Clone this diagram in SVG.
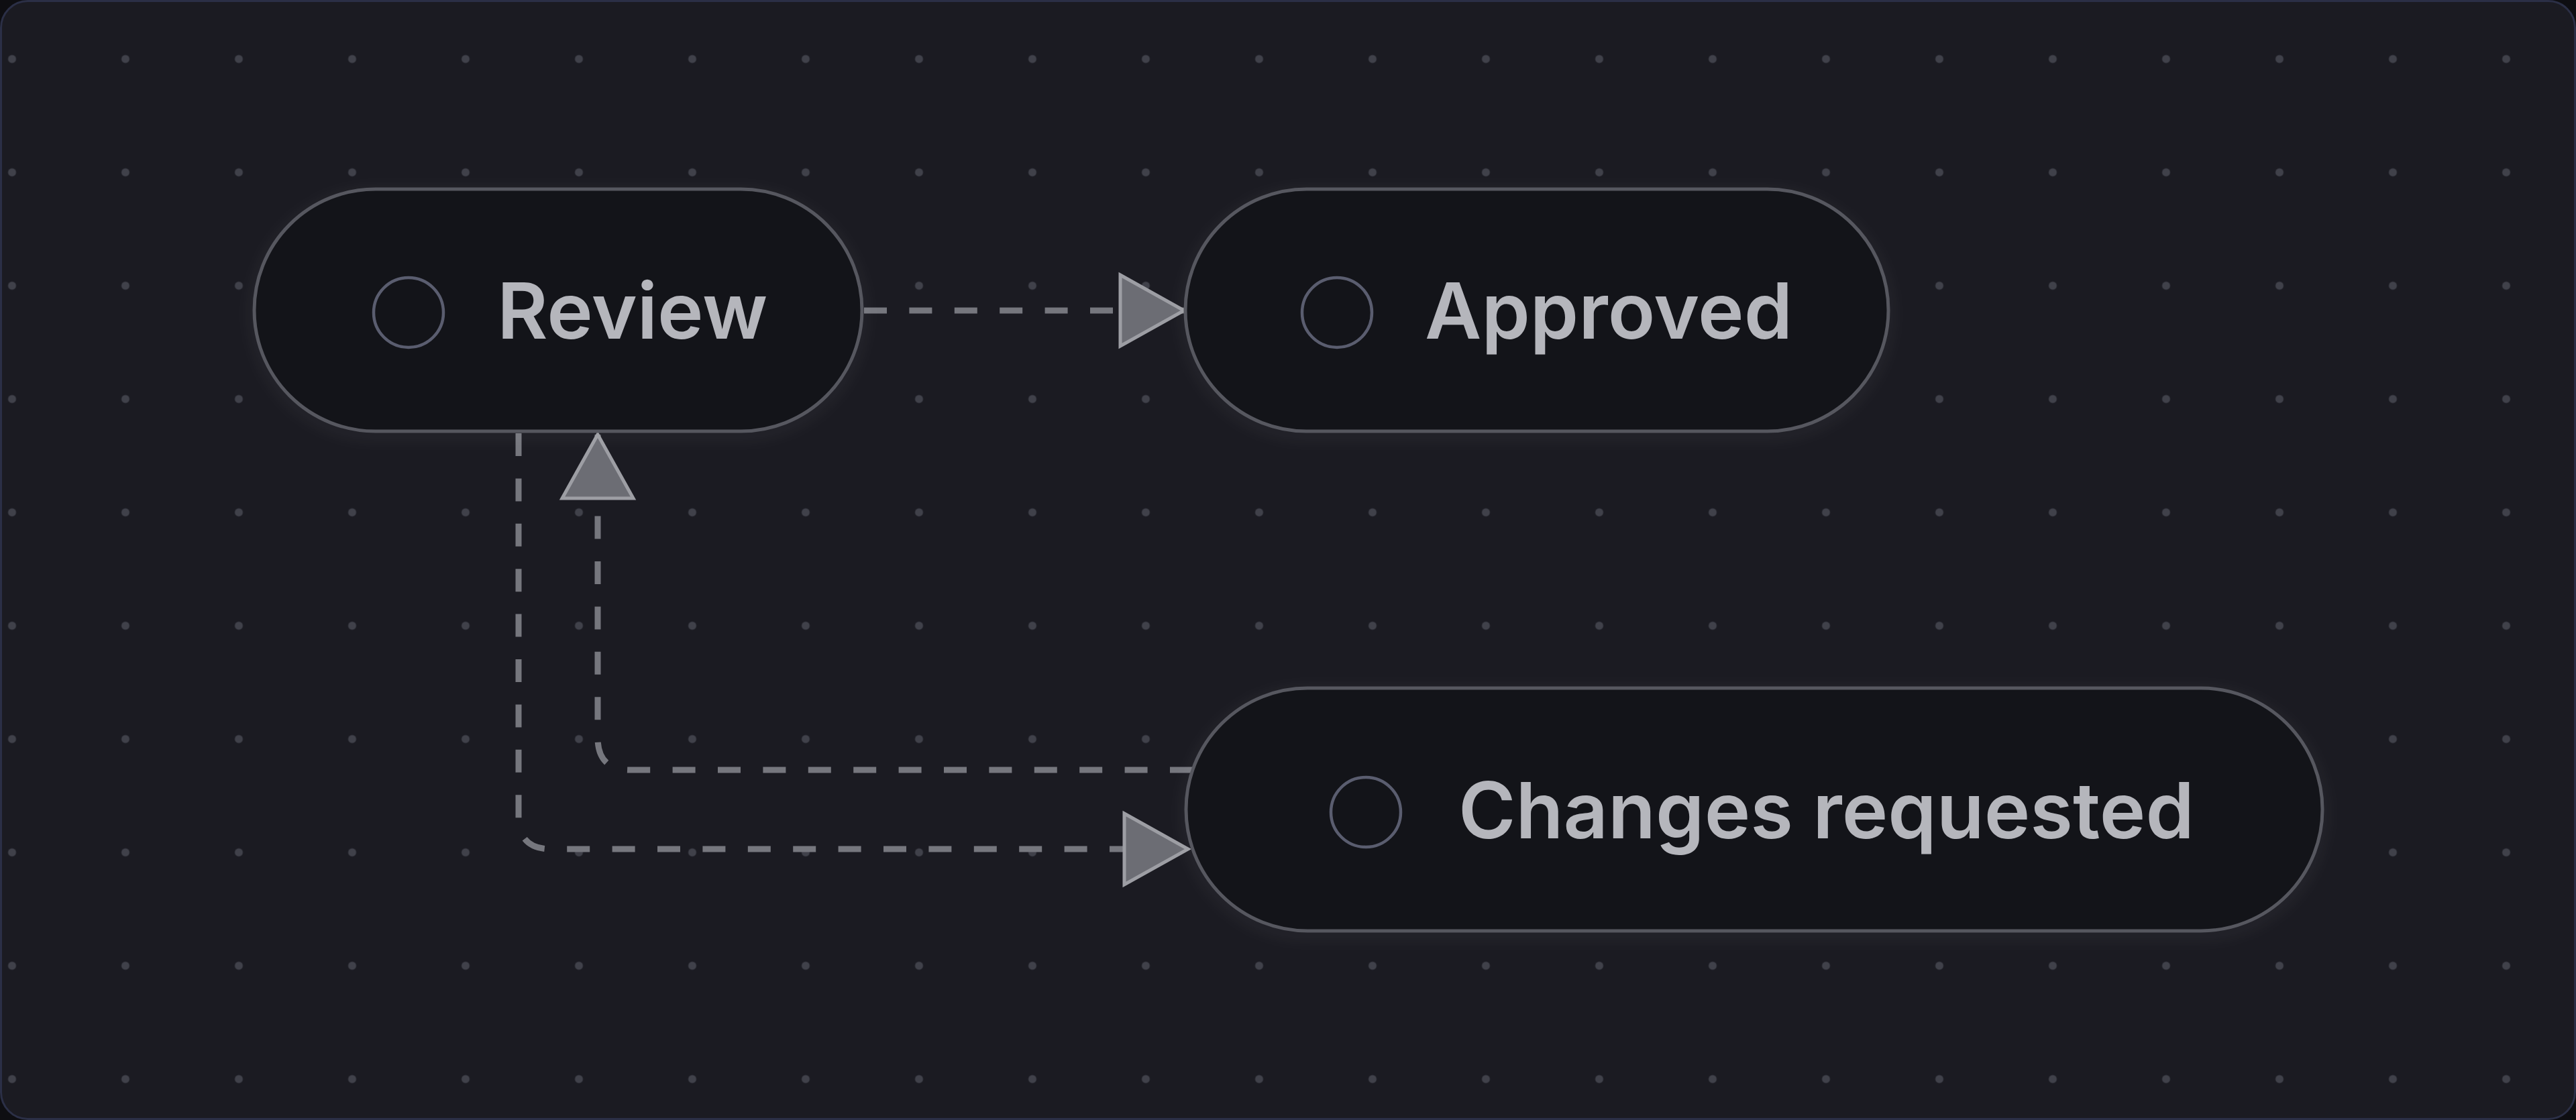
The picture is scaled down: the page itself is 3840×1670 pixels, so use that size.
<svg xmlns="http://www.w3.org/2000/svg" width="3840" height="1670" viewBox="0 0 3840 1670">
<style>
.node-shape{fill:#131419;stroke:#56575f;stroke-width:5}
.node-glow{fill:none;stroke:#ffffff;stroke-opacity:0.05;stroke-width:14}
.node-icon{fill:none;stroke:#5a5d6f;stroke-width:4.5}
.node-label{font-family:Inter,"Liberation Sans",sans-serif;font-weight:600;font-size:116px;fill:#b5b6bc}
.edge{fill:none;stroke:#76777e;stroke-width:9;stroke-dasharray:34 33.4}
</style>
<defs>
<pattern id="dots" patternUnits="userSpaceOnUse" x="-66.5" y="3.5" width="169" height="169">
<circle cx="84.5" cy="84.5" r="6" fill="#40414a"/>
</pattern>
<marker id="arrow" markerUnits="userSpaceOnUse" viewBox="-6 -6 108 118" markerWidth="108" markerHeight="118" refX="95" refY="53" orient="auto">
<path d="M0,0 L95,53 L0,106 Z" fill="#6c6d74" stroke="#9d9ea4" stroke-width="5" stroke-linejoin="miter"/>
</marker>
<filter id="blur" x="-10%" y="-20%" width="120%" height="150%">
<feGaussianBlur stdDeviation="9"/>
</filter>
</defs>
<rect x="0" y="0" width="3840" height="1670" fill="#0e0e12"/>
<rect x="1.5" y="1.5" width="3837" height="1667" rx="40" fill="#1b1b22" stroke="#2b2f46" stroke-width="3"/>
<rect x="3" y="3" width="3834" height="1664" rx="38" fill="url(#dots)"/>
<g id="connectors">
<path class="edge" d="M1288 463 H1765" marker-end="url(#arrow)"/>
<path class="edge" d="M773 646 V1218 Q773 1266 821 1266 H1771" marker-end="url(#arrow)"/>
<path class="edge" d="M1778 1148 H939 Q891 1148 891 1100 V648" marker-end="url(#arrow)"/>
</g>
<g id="node-review">
<rect class="node-glow" filter="url(#blur)" x="379" y="288" width="906" height="361" rx="180.5"/>
<rect class="node-shape" x="379" y="282" width="906" height="361" rx="180.5"/>
<circle class="node-icon" cx="609" cy="466" r="52"/>
<text class="node-label" x="741" y="505">Review</text>
</g>
<g id="node-approved">
<rect class="node-glow" filter="url(#blur)" x="1767" y="288" width="1048" height="361" rx="180.5"/>
<rect class="node-shape" x="1767" y="282" width="1048" height="361" rx="180.5"/>
<circle class="node-icon" cx="1993" cy="466" r="52"/>
<text class="node-label" x="2124" y="505">Approved</text>
</g>
<g id="node-changes-requested">
<rect class="node-glow" filter="url(#blur)" x="1768" y="1032" width="1694" height="362" rx="181"/>
<rect class="node-shape" x="1768" y="1026" width="1694" height="362" rx="181"/>
<circle class="node-icon" cx="2036" cy="1211" r="52"/>
<text class="node-label" x="2174" y="1250">Changes requested</text>
</g>
</svg>
